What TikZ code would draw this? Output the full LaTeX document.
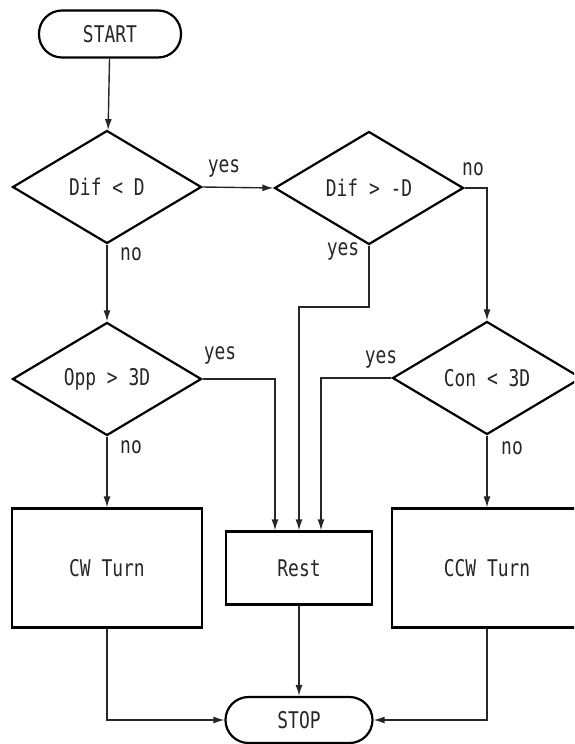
\documentclass[tikz,border=0pt]{standalone}
\usepackage{fontspec}
\newfontfamily\gfont[FakeStretch=0.78]{DejaVu Sans Mono}
\usetikzlibrary{shapes.geometric,arrows.meta}
\begin{document}
\begin{tikzpicture}[x=1pt,y=-1pt,
  every node/.style={font=\gfont\fontsize{23}{26}\selectfont, text=black!85},
  term/.style={draw=black, line width=2.2pt, rounded corners=23pt, minimum width=142pt, minimum height=47pt, inner sep=0pt},
  cond/.style={draw=black, line width=2.2pt, diamond, minimum width=189pt, minimum height=113pt, inner sep=0pt},
  act/.style={draw=black, line width=2.2pt, rectangle, inner sep=0pt},
  lbl/.style={inner sep=0pt},
  flow/.style={line width=1.4pt, draw=black!85, -{Latex[length=11pt,width=7pt]}}]
\useasboundingbox (0,0) rectangle (574,744);
\clip (0,0) rectangle (574,744);

% terminals
\node[term] (start) at (110,34) {START};
\node[term, minimum width=147pt, minimum height=46pt] (stop) at (299,720) {STOP};

% decisions
\node[cond] (d1) at (107,187) {Dif < D};
\node[cond] (d2) at (369,188) {Dif > -D};
\node[cond] (d3) at (107,379) {Opp > 3D};
\node[cond] (d4) at (487,378) {Con < 3D};

% actions
\node[act, minimum width=190pt, minimum height=119pt] (cw) at (107,568) {CW Turn};
\node[act, minimum width=146pt, minimum height=73pt] (rest) at (299,568) {Rest};
\node[act, minimum width=190pt, minimum height=119pt] (ccw) at (487,568) {CCW Turn};

% entry points on top of Rest
\coordinate (rinL) at ([xshift=-24pt]rest.north);
\coordinate (rinR) at ([xshift=22pt]rest.north);
\coordinate (bendA) at (369,307);

% branch labels
\node[lbl] (y1) at (224,168) {yes};
\node[lbl] (n1) at (131,254) {no};
\node[lbl] (n2) at (473,169) {no};
\node[lbl] (y2) at (343,251) {yes};
\node[lbl] (y3) at (220,355) {yes};
\node[lbl] (n3) at (131,447) {no};
\node[lbl] (y4) at (381,359) {yes};
\node[lbl] (n4) at (512,448) {no};

% connectors
\draw[flow] (start) -- (d1);
\draw[flow] (d1.east) -- (d2.west);
\draw[flow] (d1.south) -- (d3.north);
\draw[flow] (d2.east) -| (d4.north);
\draw[flow] (d2.south) -- (bendA) -| (rest.north);
\draw[flow] (d3.east) -| (rinL);
\draw[flow] (d4.west) -| (rinR);
\draw[flow] (d3.south) -- (cw.north);
\draw[flow] (d4.south) -- (ccw.north);
\draw[flow] (rest.south) -- (stop.north);
\draw[flow] (cw.south) |- (stop.west);
\draw[flow] (ccw.south) |- (stop.east);
\end{tikzpicture}
\end{document}
